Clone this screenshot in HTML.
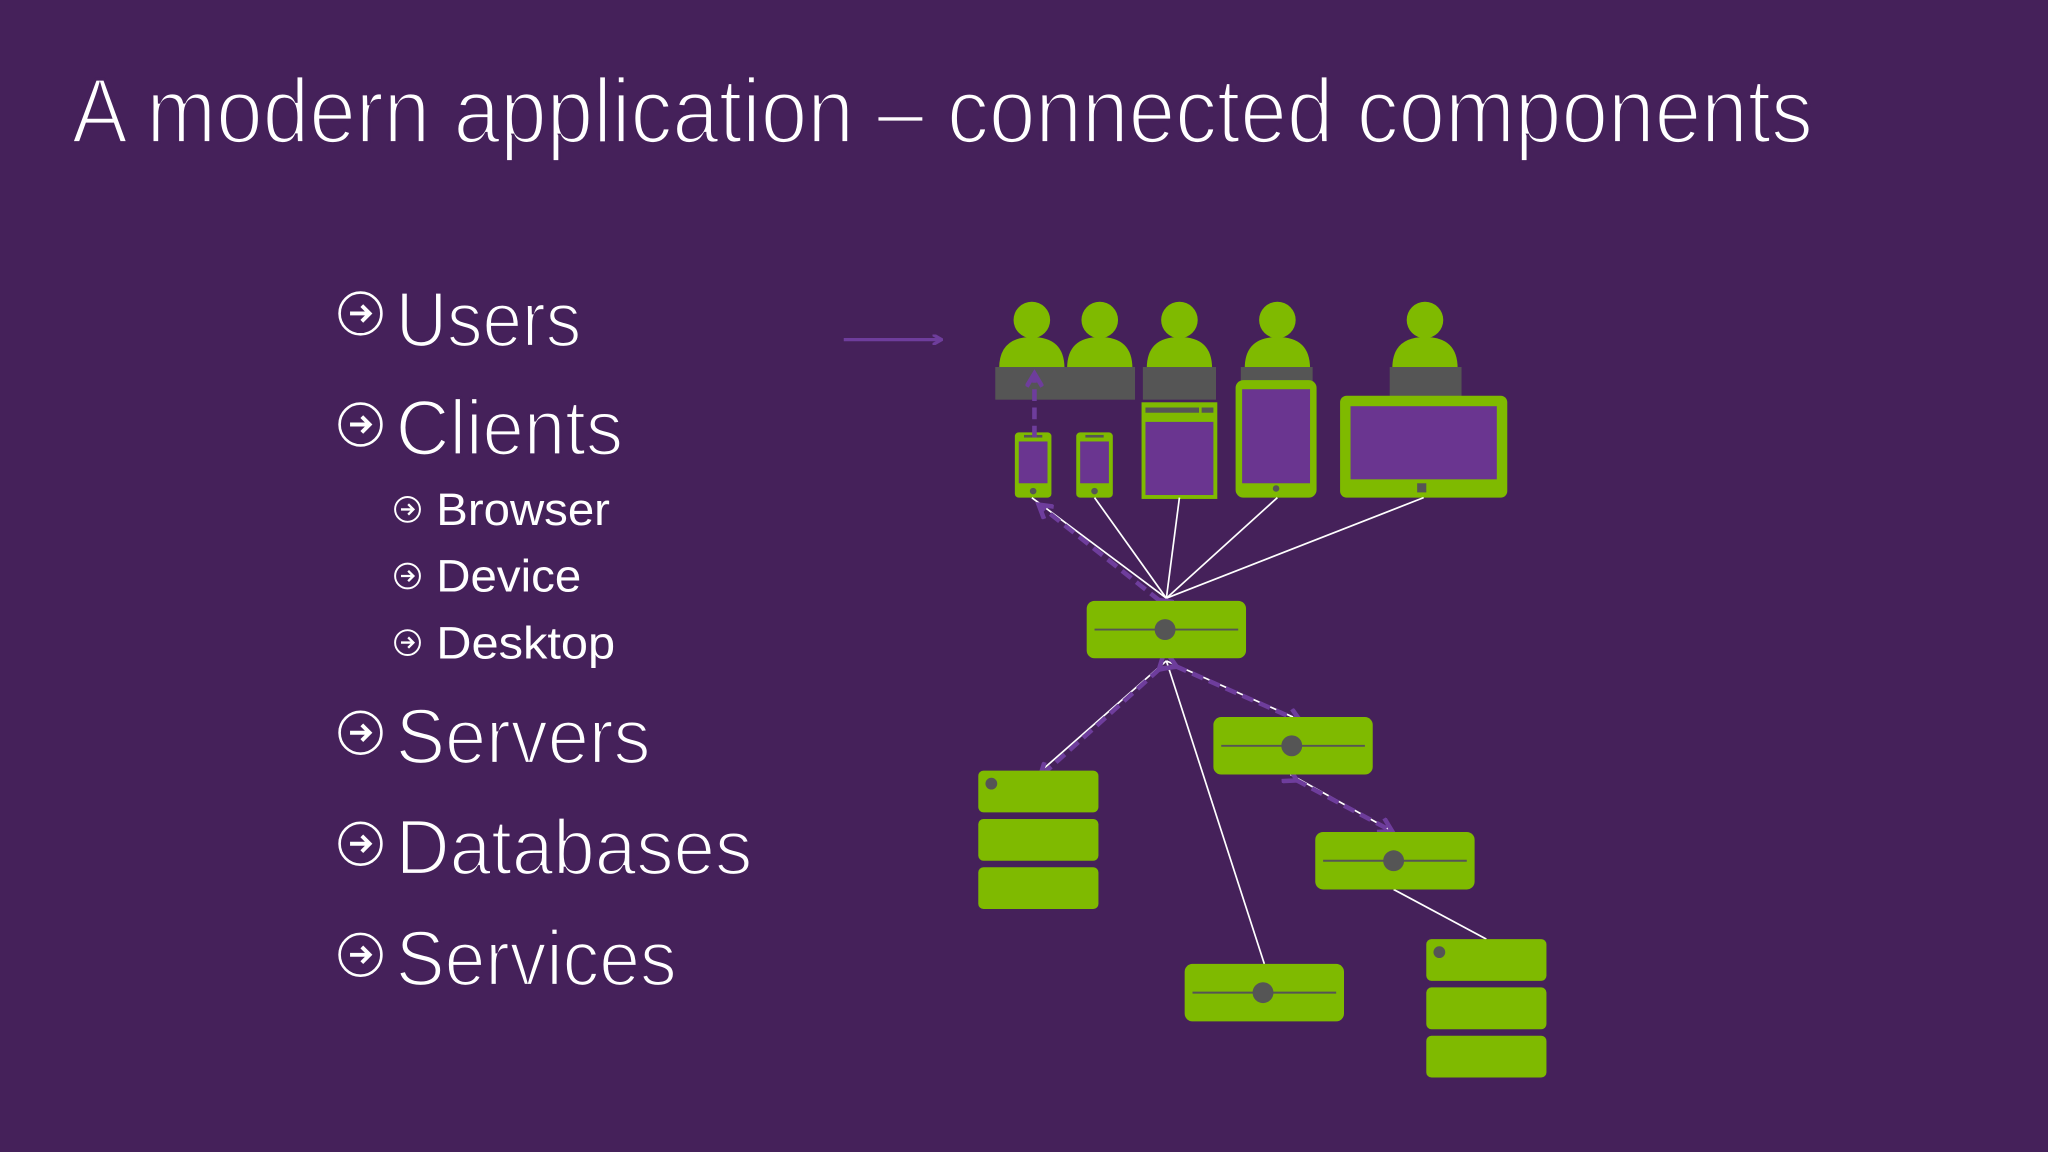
<!DOCTYPE html>
<html><head><meta charset="utf-8"><style>
html,body{margin:0;padding:0;background:#45215a;}
svg{display:block}
text{font-family:"Liberation Sans",sans-serif;fill:#fff;}
</style></head><body>
<svg width="2048" height="1152" viewBox="0 0 1568 882" xmlns="http://www.w3.org/2000/svg">
<defs>
<marker id="ah" markerWidth="8" markerHeight="8" refX="6" refY="4" orient="auto" markerUnits="userSpaceOnUse">
<path d="M0,0 L7,4 L0,8" fill="none" stroke="#6e3d9c" stroke-width="2.5"/></marker>
<marker id="ah2" markerWidth="14" markerHeight="14" refX="10" refY="7" orient="auto" markerUnits="userSpaceOnUse">
<path d="M1,1 L11,7 L1,13" fill="none" stroke="#6e3d9c" stroke-width="3.5"/></marker>
<g id="arB"><path d="M-8,0 H7 M1,-6 L7,0 L1,6" fill="none" stroke="#fff" stroke-width="3"/></g>
<g id="arS"><path d="M-5,0 H4.5 M0.5,-4 L4.5,0 L0.5,4" fill="none" stroke="#fff" stroke-width="1.8"/></g>
</defs>
<rect width="1568" height="882" fill="#45215a"/>
<text x="55" y="109" font-size="70" textLength="1333" lengthAdjust="spacingAndGlyphs" stroke="#45215a" stroke-width="2.2">A modern application – connected components</text>

<g fill="none" stroke="#fff" stroke-width="2">
<circle cx="276" cy="240" r="16"/><circle cx="276" cy="325" r="16"/>
<circle cx="276" cy="561" r="16"/><circle cx="276" cy="646" r="16"/><circle cx="276" cy="731" r="16"/>
<circle cx="312" cy="390" r="9.5" stroke-width="1.5"/><circle cx="312" cy="441" r="9.5" stroke-width="1.5"/><circle cx="312" cy="492" r="9.5" stroke-width="1.5"/>
</g>
<use href="#arB" x="276" y="240"/><use href="#arB" x="276" y="325"/><use href="#arB" x="276" y="561"/><use href="#arB" x="276" y="646"/><use href="#arB" x="276" y="731"/>
<use href="#arS" x="312" y="390"/><use href="#arS" x="312" y="441"/><use href="#arS" x="312" y="492"/>
<g font-size="60" stroke="#45215a" stroke-width="1.8">
<text x="303" y="265" textLength="142" lengthAdjust="spacingAndGlyphs">Users</text>
<text x="303" y="348" textLength="174" lengthAdjust="spacingAndGlyphs">Clients</text>
<text x="303" y="584" textLength="195" lengthAdjust="spacingAndGlyphs">Servers</text>
<text x="303" y="669" textLength="273" lengthAdjust="spacingAndGlyphs">Databases</text>
<text x="303" y="754" textLength="215" lengthAdjust="spacingAndGlyphs">Services</text>
</g>
<g font-size="35">
<text x="334" y="402" textLength="133" lengthAdjust="spacingAndGlyphs">Browser</text>
<text x="334" y="453" textLength="111" lengthAdjust="spacingAndGlyphs">Device</text>
<text x="334" y="504" textLength="137" lengthAdjust="spacingAndGlyphs">Desktop</text>
</g>

<line x1="646" y1="260" x2="720" y2="260" stroke="#6e3d9c" stroke-width="2.5" marker-end="url(#ah)"/>

<g fill="#7fba00">
<g id="p"><circle cx="790" cy="245" r="14"/><path d="M765,282 Q765,258 790,258 Q815,258 815,282Z"/></g>
<use href="#p" x="52"/><use href="#p" x="113"/><use href="#p" x="188"/><use href="#p" x="301"/>
</g>
<g fill="#555">
<rect x="762" y="281" width="107" height="25"/><rect x="875" y="281" width="56" height="25"/>
<rect x="950" y="281" width="55" height="12"/><rect x="1064" y="281" width="55" height="24"/>
</g>
<g fill="#7fba00">
<rect x="777" y="331" width="28" height="50" rx="3"/><rect x="824" y="331" width="28" height="50" rx="3"/>
<rect x="874" y="308" width="58" height="74"/>
<rect x="946" y="291" width="62" height="90" rx="6"/>
<rect x="1026" y="303" width="128" height="78" rx="5"/>
</g>
<g fill="#6a3590">
<rect x="780" y="338" width="22" height="32"/><rect x="827" y="338" width="22" height="32"/>
<rect x="877" y="323" width="52" height="56"/>
<rect x="951" y="298" width="52" height="72"/>
<rect x="1034" y="311" width="112" height="56"/>
</g>
<g fill="#555">
<circle cx="791" cy="376" r="2.5"/><circle cx="838" cy="376" r="2.5"/>
<rect x="831" y="333" width="14" height="2"/><rect x="784" y="333" width="14" height="2"/>
<rect x="877" y="312" width="41" height="4"/><rect x="920" y="312" width="9" height="4"/>
<circle cx="977" cy="374" r="2.5"/><rect x="1085" y="370" width="7" height="7"/>
</g>

<g stroke="#fff" stroke-width="1.3" fill="none">
<line x1="893" y1="458" x2="790" y2="381"/><line x1="893" y1="458" x2="838" y2="381"/>
<line x1="893" y1="458" x2="903" y2="381"/><line x1="893" y1="458" x2="978" y2="381"/>
<line x1="893" y1="458" x2="1090" y2="381"/>
<line x1="893" y1="506" x2="795" y2="592"/><line x1="893" y1="506" x2="968" y2="738"/>
<line x1="893" y1="506" x2="990" y2="549"/>
<line x1="988" y1="593" x2="1067" y2="637"/><line x1="1067" y1="681" x2="1138" y2="719"/>
</g>
<g stroke="#6e3d9c" stroke-width="3.5" stroke-dasharray="9 5" fill="none">
<line x1="792" y1="335" x2="792" y2="287" marker-end="url(#ah2)"/>
<line x1="888" y1="460" x2="796" y2="387" marker-end="url(#ah2)" marker-start="url(#ah2)"/>
<line x1="888" y1="512" x2="797" y2="594" marker-end="url(#ah2)" marker-start="url(#ah2)"/>
<line x1="900" y1="510" x2="995" y2="552" marker-end="url(#ah2)" marker-start="url(#ah2)"/>
<line x1="992" y1="597" x2="1065" y2="636" marker-end="url(#ah2)" marker-start="url(#ah2)"/>
</g>

<g id="srv"><rect x="832" y="460" width="122" height="44" rx="6" fill="#7fba00"/>
<line x1="838" y1="482" x2="948" y2="482" stroke="#555" stroke-width="1.5"/>
<circle cx="892" cy="482" r="8" fill="#555"/></g>
<use href="#srv" x="97" y="89"/><use href="#srv" x="175" y="177"/><use href="#srv" x="75" y="278"/>
<g id="db" fill="#7fba00">
<rect x="749" y="590" width="92" height="32" rx="4"/><rect x="749" y="627" width="92" height="32" rx="4"/><rect x="749" y="664" width="92" height="32" rx="4"/>
<circle cx="759" cy="600" r="4.5" fill="#555"/></g>
<use href="#db" x="343" y="129"/>
</svg>
</body></html>
